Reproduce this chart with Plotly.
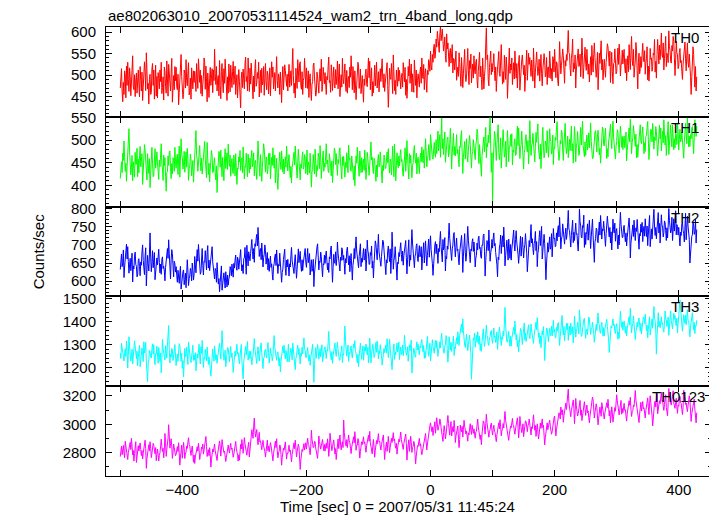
import plotly.graph_objects as go
from plotly.subplots import make_subplots

# time bins (sec), 1 s bins from -500 s
time_sec = list(range(-500, 430))

th0 = [
    470, 492, 515, 461, 438, 483, 455, 510, 498, 447, 521, 476, 530, 489, 462, 517, 497, 452, 488, 529, 545, 473, 466, 501, 450, 486, 505, 458, 479, 512,
    478, 449, 520, 495, 463, 507, 441, 472, 495, 531, 508, 464, 552, 499, 468, 481, 433, 490, 502, 455, 459, 514, 527, 476, 512, 444, 486, 523, 451, 497,
    447, 506, 493, 468, 512, 485, 530, 457, 471, 496, 442, 519, 508, 474, 458, 533, 489, 451, 525, 492, 480, 463, 504, 539, 437, 481, 499, 466, 520, 487,
    518, 473, 466, 502, 431, 460, 490, 524, 548, 497, 478, 445, 455, 512, 503, 470, 536, 488, 475, 508, 529, 454, 461, 493, 444, 517, 487, 468, 510, 483,
    509, 481, 462, 527, 495, 469, 538, 490, 483, 512, 457, 499, 451, 478, 496, 540, 530, 467, 521, 486, 438, 505, 473, 448, 492, 518, 476, 501, 515, 459,
    512, 487, 560, 504, 478, 520, 463, 491, 499, 452, 534, 476, 445, 509, 527, 483, 459, 515, 481, 537, 506, 470, 441, 496, 458, 526, 490, 461, 523, 494,
    471, 509, 532, 478, 490, 521, 455, 484, 501, 447, 468, 513, 486, 458, 424, 492, 507, 471, 514, 489, 468, 526, 542, 485, 497, 463, 540, 502, 462, 516,
    479, 528, 503, 467, 445, 498, 461, 515, 536, 474, 482, 506, 492, 530, 449, 488, 511, 459, 516, 477, 484, 520, 453, 493, 527, 482, 466, 509, 500, 456,
    498, 517, 452, 484, 531, 495, 519, 468, 481, 506, 463, 529, 543, 487, 470, 503, 494, 455, 507, 478, 436, 491, 520, 466, 489, 524, 511, 480, 474, 502,
    463, 495, 525, 472, 487, 510, 476, 521, 562, 499, 458, 481, 447, 516, 500, 469, 536, 493, 484, 527, 531, 475, 467, 508, 455, 488, 494, 539, 512, 470,
    517, 484, 469, 510, 448, 492, 503, 466, 441, 479, 485, 523, 528, 496, 482, 451, 459, 507, 496, 474, 458, 501, 515, 486, 537, 462, 473, 518, 497, 480,
    506, 478, 455, 497, 489, 520, 542, 483, 487, 460, 524, 505, 464, 491, 519, 476, 470, 513, 478, 499, 533, 468, 492, 526, 450, 485, 501, 472, 539, 493,
    480, 503, 526, 477, 462, 511, 458, 490, 497, 471, 519, 495, 545, 508, 466, 520, 488, 459, 510, 482, 443, 476, 502, 530, 521, 469, 486, 514, 457, 492,
    499, 468, 437, 491, 476, 503, 514, 480, 473, 512, 540, 494, 532, 466, 488, 517, 451, 485, 459, 498, 523, 475, 497, 530, 470, 489, 508, 461, 482, 515,
    485, 511, 538, 490, 471, 503, 462, 481, 500, 522, 529, 476, 425, 468, 516, 495, 490, 527, 479, 457, 547, 505, 464, 488, 455, 512, 493, 474, 518, 486,
    511, 480, 468, 495, 504, 472, 529, 507, 484, 518, 453, 490, 446, 475, 520, 498, 537, 481, 497, 526, 461, 503, 482, 460, 535, 499, 476, 512, 447, 488,
    503, 489, 472, 508, 519, 481, 540, 497, 492, 525, 466, 503, 515, 484, 460, 511, 501, 536, 528, 509, 556, 521, 512, 548, 530, 563, 572, 539, 549, 584,
    565, 602, 590, 571, 553, 596, 612, 580, 598, 607, 581, 556, 570, 589, 545, 530, 596, 561, 575, 547, 520, 553, 562, 528, 548, 571, 505, 539, 537, 512,
    530, 556, 488, 512, 519, 497, 552, 529, 507, 474, 541, 516, 471, 503, 538, 560, 503, 485, 496, 527, 562, 510, 478, 534, 515, 549, 482, 507, 526, 493,
    545, 512, 503, 531, 537, 488, 470, 509, 528, 553, 496, 521, 490, 466, 540, 513, 468, 497, 518, 574, 610, 536, 547, 489, 475, 518, 532, 556, 501, 527,
    508, 532, 550, 511, 487, 519, 462, 495, 525, 540, 555, 504, 497, 533, 571, 522, 479, 508, 483, 546, 519, 490, 542, 517, 446, 499, 538, 563, 504, 526,
    512, 540, 478, 505, 529, 491, 556, 520, 493, 527, 470, 512, 530, 546, 465, 498, 518, 536, 547, 509, 501, 523, 462, 497, 524, 558, 488, 514, 551, 525,
    541, 518, 497, 535, 515, 486, 563, 529, 470, 507, 532, 554, 522, 499, 509, 537, 486, 520, 548, 503, 475, 512, 527, 550, 533, 496, 502, 541, 478, 518,
    519, 494, 556, 528, 492, 515, 486, 543, 538, 507, 560, 525, 494, 531, 527, 488, 475, 516, 578, 536, 503, 522, 538, 561, 545, 510, 481, 534, 521, 548,
    534, 570, 604, 552, 549, 516, 498, 539, 552, 584, 507, 528, 515, 547, 470, 512, 533, 558, 561, 520, 523, 549, 496, 531, 586, 545, 492, 518, 540, 565,
    528, 511, 560, 537, 502, 526, 484, 518, 543, 500, 569, 532, 507, 548, 575, 541, 521, 495, 519, 553, 466, 509, 551, 527, 549, 580, 512, 536, 489, 524,
    537, 514, 495, 529, 548, 573, 566, 532, 521, 556, 483, 518, 553, 509, 480, 527, 529, 561, 540, 503, 508, 544, 563, 525, 572, 545, 498, 523, 530, 558,
    526, 547, 560, 519, 505, 538, 487, 522, 545, 508, 571, 542, 513, 554, 590, 535, 522, 560, 495, 517, 533, 576, 556, 511, 468, 529, 551, 503, 515, 543,
    518, 549, 574, 540, 531, 557, 502, 528, 539, 566, 489, 521, 486, 512, 562, 537, 540, 509, 520, 551, 547, 583, 507, 532, 493, 548, 583, 555, 526, 570,
    536, 562, 598, 547, 541, 575, 512, 538, 566, 590, 520, 551, 545, 529, 603, 566, 557, 532, 528, 569, 556, 590, 579, 541, 499, 536, 579, 552, 547, 515,
    521, 553, 562, 529, 534, 508, 490, 526, 544, 570, 577, 538, 510, 547, 575, 530, 518, 549, 527, 497, 455, 512, 539, 566, 548, 503, 472, 520, 463, 496,
]

th1 = [
    415, 437, 452, 428, 471, 455, 498, 462, 431, 449, 409, 441, 468, 492, 525, 476, 454, 423, 440, 466, 410, 452, 437, 418, 473, 446, 447, 482, 419, 458,
    428, 463, 486, 441, 453, 470, 402, 433, 455, 490, 478, 446, 437, 412, 470, 451, 426, 459, 395, 427, 462, 484, 449, 419, 421, 456, 481, 438, 458, 474,
    450, 427, 413, 456, 441, 468, 492, 447, 436, 411, 467, 443, 461, 420, 387, 429, 430, 465, 444, 472, 476, 439, 415, 448, 425, 461, 458, 431, 484, 452,
    438, 460, 469, 424, 452, 487, 418, 446, 503, 470, 461, 436, 447, 475, 429, 453, 474, 440, 482, 458, 411, 437, 443, 469, 456, 421, 433, 455, 407, 444,
    473, 498, 521, 466, 457, 431, 446, 479, 488, 453, 432, 460, 425, 444, 464, 486, 497, 458, 439, 417, 495, 462, 424, 449, 408, 436, 452, 477, 466, 428,
    430, 451, 461, 428, 412, 443, 384, 426, 447, 475, 469, 440, 478, 453, 419, 462, 438, 410, 456, 481, 437, 459, 472, 435, 491, 457, 442, 467, 420, 448,
    459, 432, 426, 467, 445, 421, 470, 448, 402, 438, 436, 463, 452, 477, 433, 455, 461, 428, 485, 450, 414, 442, 440, 471, 448, 419, 469, 437, 427, 460,
    436, 462, 477, 441, 450, 472, 421, 449, 455, 430, 413, 456, 498, 465, 443, 420, 468, 447, 409, 439, 466, 492, 481, 444, 429, 463, 458, 425, 435, 470,
    445, 471, 414, 438, 462, 444, 483, 452, 438, 467, 405, 431, 460, 418, 391, 428, 444, 473, 452, 435, 476, 449, 429, 458, 425, 446, 463, 440, 487, 457,
    432, 456, 468, 435, 417, 442, 405, 439, 449, 470, 473, 445, 487, 458, 427, 416, 452, 480, 455, 430, 412, 447, 438, 463, 474, 436, 441, 468, 461, 426,
    457, 478, 423, 452, 446, 427, 471, 443, 396, 430, 435, 468, 446, 425, 480, 455, 419, 444, 433, 471, 462, 437, 488, 459, 415, 441, 452, 476, 431, 449,
    440, 465, 492, 447, 456, 431, 428, 470, 459, 442, 421, 454, 406, 439, 451, 482, 477, 446, 470, 425, 422, 457, 448, 476, 483, 451, 437, 414, 463, 444,
    464, 437, 418, 451, 439, 472, 454, 428, 489, 457, 460, 433, 431, 465, 447, 424, 412, 443, 399, 436, 465, 449, 484, 456, 441, 420, 476, 450, 428, 461,
    429, 452, 458, 433, 478, 445, 413, 440, 473, 459, 436, 422, 444, 471, 496, 456, 462, 437, 426, 460, 455, 432, 409, 445, 418, 454, 468, 441, 447, 474,
    451, 429, 405, 444, 432, 467, 462, 437, 438, 456, 474, 450, 481, 446, 427, 458, 452, 423, 466, 487, 445, 419, 491, 461, 410, 443, 472, 448, 439, 465,
    443, 468, 479, 452, 457, 430, 420, 447, 458, 483, 431, 455, 499, 462, 436, 414, 470, 449, 467, 441, 417, 444, 450, 476, 488, 459, 449, 471, 425, 456,
    462, 447, 426, 458, 471, 452, 485, 466, 450, 479, 438, 468, 503, 474, 441, 459, 466, 490, 477, 455, 512, 486, 483, 461, 458, 492, 495, 470, 462, 501,
    470, 497, 520, 476, 489, 512, 462, 500, 549, 481, 503, 468, 488, 518, 451, 479, 478, 505, 507, 463, 472, 494, 526, 487, 436, 471, 498, 515, 467, 486,
    465, 493, 512, 470, 479, 457, 441, 486, 484, 509, 521, 473, 426, 462, 476, 497, 458, 482, 503, 466, 452, 478, 488, 510, 491, 455, 438, 469, 474, 501,
    482, 463, 457, 489, 499, 524, 515, 476, 448, 490, 471, 453, 420, 466, 478, 502, 507, 474, 503, 528, 461, 493, 485, 511, 494, 527, 550, 483, 429, 472,
    365, 447, 488, 519, 512, 476, 455, 491, 509, 534, 473, 457, 472, 505, 438, 469, 496, 523, 495, 462, 467, 498, 441, 480, 521, 493, 452, 486, 487, 512,
    486, 514, 445, 478, 473, 497, 503, 466, 468, 502, 531, 488, 527, 495, 459, 482, 490, 520, 491, 463, 436, 472, 479, 506, 512, 484, 474, 499, 447, 481,
    543, 501, 466, 489, 492, 515, 497, 470, 452, 484, 517, 495, 518, 536, 480, 463, 458, 491, 437, 476, 505, 528, 483, 461, 471, 498, 494, 472, 521, 490,
    462, 487, 525, 502, 497, 469, 478, 511, 446, 483, 481, 506, 500, 527, 541, 493, 474, 455, 468, 499, 492, 522, 516, 478, 455, 491, 516, 537, 488, 470,
    483, 509, 461, 494, 502, 477, 508, 531, 476, 492, 449, 484, 530, 505, 452, 487, 494, 519, 497, 466, 470, 501, 528, 489, 519, 542, 488, 473, 463, 496,
    466, 492, 511, 478, 489, 516, 483, 504, 538, 497, 476, 459, 460, 488, 495, 518, 521, 486, 474, 509, 522, 495, 467, 482, 449, 476, 501, 529, 525, 490,
    487, 510, 526, 493, 459, 481, 463, 498, 505, 521, 535, 502, 481, 514, 542, 507, 490, 469, 458, 486, 497, 523, 519, 491, 472, 500, 531, 512, 484, 508,
    479, 501, 509, 483, 492, 518, 454, 477, 493, 509, 527, 496, 546, 511, 470, 495, 505, 532, 515, 487, 486, 513, 461, 490, 462, 484, 504, 522, 534, 497,
    492, 515, 529, 498, 470, 494, 475, 508, 511, 528, 541, 502, 457, 483, 498, 524, 522, 496, 537, 510, 480, 507, 499, 530, 518, 491, 465, 489, 509, 533,
    503, 527, 476, 498, 520, 494, 545, 516, 489, 510, 466, 492, 520, 541, 468, 497, 511, 534, 506, 485, 533, 512, 479, 503, 483, 515, 512, 490, 538, 519,
    478, 501, 524, 496, 499, 518, 491, 472, 460, 494, 513, 537, 515, 492, 549, 521, 485, 509, 486, 512, 503, 527, 530, 498, 470, 506, 545, 523, 508, 531,
]

th2 = [
    632, 659, 675, 640, 651, 686, 610, 639, 658, 673, 702, 661, 695, 654, 622, 645, 663, 629, 648, 677, 598, 642, 634, 669, 680, 646, 641, 612, 617, 657,
    662, 640, 615, 653, 644, 681, 700, 657, 638, 618, 669, 692, 587, 633, 671, 648, 628, 675, 733, 666, 626, 651, 684, 637, 655, 679, 604, 631, 639, 664,
    645, 672, 688, 651, 623, 647, 619, 660, 667, 635, 641, 628, 601, 638, 652, 683, 690, 663, 714, 676, 634, 606, 659, 687, 676, 639, 612, 655, 648, 625,
    640, 616, 597, 630, 618, 594, 622, 641, 578, 603, 609, 626, 631, 590, 605, 622, 582, 612, 659, 628, 588, 607, 614, 635, 627, 601, 650, 629, 603, 620,
    668, 645, 623, 662, 687, 655, 701, 672, 646, 619, 625, 660, 690, 643, 617, 654, 652, 684, 657, 631, 679, 698, 636, 658, 629, 647, 664, 682, 695, 653,
    638, 611, 606, 635, 629, 597, 651, 620, 592, 607, 571, 596, 618, 642, 575, 589, 598, 623, 603, 581, 626, 609, 584, 617, 589, 606, 614, 640, 636, 615,
    647, 625, 611, 649, 636, 658, 672, 640, 630, 666, 659, 633, 655, 676, 687, 650, 628, 645, 621, 662, 664, 693, 641, 619, 699, 668, 642, 681, 673, 656,
    676, 694, 715, 682, 661, 690, 652, 703, 696, 718, 729, 697, 748, 711, 668, 686, 690, 659, 705, 677, 639, 665, 674, 700, 684, 647, 658, 679, 631, 662,
    627, 652, 669, 638, 648, 619, 603, 641, 648, 667, 675, 643, 686, 654, 621, 646, 642, 677, 655, 628, 597, 624, 633, 660, 672, 688, 635, 616, 658, 639,
    660, 637, 614, 648, 639, 670, 693, 656, 642, 625, 621, 655, 673, 640, 608, 633, 665, 689, 651, 668, 682, 645, 627, 659, 629, 650, 665, 683, 690, 652,
    638, 665, 690, 651, 659, 676, 617, 643, 659, 627, 634, 660, 585, 622, 646, 675, 671, 694, 703, 662, 631, 655, 652, 680, 668, 636, 612, 648, 645, 672,
    649, 671, 683, 655, 631, 650, 624, 667, 661, 688, 697, 642, 597, 638, 674, 652, 649, 681, 643, 663, 708, 677, 662, 640, 628, 666, 657, 692, 686, 658,
    671, 648, 619, 662, 650, 685, 694, 667, 645, 670, 626, 657, 676, 639, 603, 644, 658, 690, 662, 698, 722, 683, 669, 646, 637, 668, 681, 703, 640, 663,
    652, 677, 690, 658, 663, 689, 628, 660, 713, 684, 675, 646, 647, 679, 671, 697, 636, 655, 609, 648, 684, 711, 702, 667, 659, 693, 729, 681, 668, 654,
    641, 668, 686, 713, 709, 677, 662, 640, 618, 659, 650, 683, 697, 670, 654, 689, 621, 663, 735, 692, 633, 657, 666, 695, 673, 638, 603, 652, 648, 679,
    668, 690, 706, 674, 655, 683, 644, 671, 681, 700, 712, 665, 620, 659, 692, 714, 641, 672, 658, 693, 742, 705, 680, 651, 637, 669, 675, 698, 703, 662,
    654, 681, 698, 667, 672, 695, 631, 662, 679, 706, 650, 688, 711, 674, 642, 670, 689, 716, 666, 694, 725, 687, 673, 648, 616, 663, 683, 701, 709, 676,
    702, 675, 649, 690, 681, 712, 737, 696, 671, 653, 715, 686, 694, 720, 628, 668, 662, 697, 688, 725, 760, 718, 700, 672, 657, 689, 699, 727, 734, 693,
    667, 697, 719, 684, 688, 662, 645, 680, 693, 714, 726, 690, 624, 669, 707, 731, 680, 655, 672, 701, 751, 713, 698, 676, 651, 688, 684, 709, 717, 682,
    708, 682, 639, 664, 671, 705, 686, 719, 724, 690, 693, 667, 663, 700, 699, 726, 730, 681, 614, 657, 677, 712, 702, 684, 741, 706, 655, 678, 689, 715,
    691, 718, 733, 697, 704, 679, 668, 645, 612, 666, 659, 694, 702, 727, 676, 708, 725, 694, 749, 710, 642, 670, 684, 713, 689, 658, 716, 690, 663, 701,
    658, 688, 705, 727, 741, 700, 683, 715, 739, 708, 696, 674, 649, 686, 697, 724, 669, 701, 721, 693, 664, 689, 701, 731, 710, 677, 626, 668, 685, 712,
    695, 724, 756, 705, 717, 690, 673, 703, 712, 737, 684, 709, 640, 676, 688, 720, 739, 698, 728, 751, 661, 695, 697, 729, 703, 672, 604, 650, 668, 706,
    680, 706, 722, 688, 694, 731, 667, 702, 745, 717, 719, 695, 698, 733, 711, 742, 753, 722, 776, 738, 689, 716, 724, 758, 734, 708, 702, 729, 746, 715,
    728, 761, 795, 744, 739, 717, 694, 726, 741, 768, 706, 735, 712, 747, 760, 729, 731, 702, 683, 725, 799, 764, 752, 721, 719, 753, 748, 782, 693, 734,
    701, 729, 737, 758, 713, 741, 768, 726, 690, 722, 748, 771, 725, 694, 652, 707, 718, 746, 743, 711, 706, 739, 763, 727, 781, 752, 716, 744, 739, 765,
    739, 717, 696, 731, 752, 779, 758, 725, 722, 748, 705, 736, 686, 722, 771, 742, 733, 760, 710, 738, 745, 716, 689, 727, 700, 751, 790, 757, 744, 720,
    721, 746, 754, 728, 709, 733, 697, 720, 738, 761, 774, 741, 664, 705, 729, 752, 755, 723, 768, 735, 712, 747, 737, 770, 749, 716, 688, 731, 725, 757,
    735, 762, 709, 738, 751, 724, 772, 745, 723, 752, 698, 730, 756, 781, 695, 727, 744, 716, 742, 771, 798, 752, 726, 748, 717, 743, 761, 789, 733, 759,
    705, 741, 783, 755, 749, 722, 734, 766, 761, 739, 712, 747, 719, 752, 800, 768, 757, 733, 741, 776, 712, 745, 772, 738, 770, 794, 728, 756, 751, 727,
    748, 721, 697, 735, 726, 759, 762, 740, 731, 708, 765, 787, 714, 745, 779, 752, 740, 716, 650, 684, 690, 723, 728, 761, 754, 729, 736, 770, 705, 742,
]

th3 = [
    1262, 1239, 1305, 1283, 1271, 1236, 1228, 1266, 1281, 1247, 1314, 1276, 1197, 1252, 1334, 1290, 1250, 1227, 1246, 1279, 1215, 1260, 1288, 1316, 1293, 1255, 1238, 1271, 1207, 1244,
    1271, 1296, 1203, 1240, 1249, 1285, 1257, 1226, 1312, 1263, 1276, 1309, 1224, 1189, 1138, 1216, 1233, 1274, 1268, 1245, 1241, 1283, 1303, 1258, 1299, 1237, 1212, 1260, 1258, 1292,
    1250, 1218, 1287, 1254, 1226, 1263, 1176, 1233, 1322, 1281, 1263, 1236, 1232, 1295, 1264, 1240, 1297, 1326, 1383, 1278, 1219, 1259, 1245, 1283, 1277, 1230, 1245, 1269, 1300, 1257,
    1208, 1243, 1259, 1227, 1281, 1304, 1296, 1251, 1227, 1262, 1196, 1230, 1158, 1219, 1283, 1246, 1252, 1289, 1240, 1213, 1311, 1275, 1264, 1232, 1221, 1258, 1266, 1297, 1230, 1255,
    1233, 1264, 1185, 1222, 1259, 1240, 1274, 1301, 1247, 1215, 1290, 1261, 1318, 1272, 1200, 1242, 1236, 1279, 1256, 1228, 1289, 1253, 1213, 1246, 1229, 1196, 1162, 1219, 1248, 1281,
    1252, 1227, 1294, 1263, 1232, 1255, 1218, 1246, 1269, 1297, 1305, 1270, 1236, 1284, 1360, 1298, 1267, 1231, 1242, 1275, 1203, 1238, 1259, 1287, 1281, 1249, 1225, 1262, 1291, 1244,
    1263, 1225, 1178, 1214, 1236, 1272, 1249, 1283, 1301, 1258, 1265, 1237, 1216, 1251, 1274, 1300, 1229, 1196, 1150, 1223, 1257, 1286, 1292, 1254, 1288, 1313, 1232, 1260, 1271, 1238,
    1270, 1246, 1211, 1238, 1253, 1290, 1326, 1281, 1255, 1233, 1217, 1262, 1290, 1257, 1228, 1266, 1279, 1307, 1264, 1232, 1195, 1241, 1244, 1275, 1279, 1253, 1242, 1282, 1308, 1266,
    1219, 1250, 1285, 1261, 1254, 1229, 1247, 1296, 1339, 1288, 1272, 1248, 1231, 1259, 1268, 1237, 1206, 1242, 1180, 1226, 1254, 1280, 1293, 1264, 1297, 1258, 1237, 1274, 1263, 1225,
    1276, 1301, 1224, 1247, 1258, 1285, 1262, 1233, 1306, 1270, 1235, 1212, 1190, 1239, 1251, 1278, 1297, 1256, 1283, 1244, 1215, 1263, 1249, 1288, 1260, 1296, 1329, 1281, 1274, 1243,
    1243, 1268, 1287, 1251, 1227, 1255, 1209, 1241, 1266, 1292, 1301, 1230, 1135, 1213, 1258, 1286, 1240, 1265, 1300, 1274, 1236, 1259, 1282, 1246, 1271, 1299, 1224, 1257, 1255, 1285,
    1290, 1262, 1239, 1275, 1271, 1308, 1357, 1291, 1262, 1240, 1233, 1269, 1218, 1252, 1279, 1297, 1307, 1268, 1248, 1283, 1310, 1277, 1256, 1231, 1233, 1260, 1269, 1294, 1221, 1258,
    1253, 1310, 1381, 1312, 1286, 1249, 1271, 1298, 1226, 1265, 1259, 1281, 1294, 1260, 1241, 1277, 1302, 1285, 1317, 1270, 1262, 1238, 1220, 1257, 1203, 1248, 1284, 1306, 1265, 1236,
    1268, 1294, 1231, 1259, 1290, 1271, 1302, 1278, 1255, 1287, 1219, 1250, 1328, 1283, 1220, 1258, 1273, 1301, 1276, 1243, 1249, 1280, 1309, 1266, 1315, 1286, 1237, 1272, 1260, 1299,
    1282, 1251, 1210, 1239, 1247, 1283, 1264, 1292, 1298, 1262, 1325, 1288, 1243, 1270, 1323, 1284, 1258, 1231, 1190, 1245, 1271, 1303, 1235, 1266, 1256, 1291, 1306, 1268, 1279, 1310,
    1234, 1267, 1289, 1256, 1263, 1298, 1251, 1279, 1340, 1302, 1280, 1253, 1262, 1290, 1227, 1265, 1299, 1273, 1296, 1320, 1175, 1240, 1258, 1284, 1273, 1246, 1245, 1289, 1312, 1276,
    1301, 1273, 1255, 1292, 1286, 1311, 1322, 1284, 1268, 1296, 1239, 1270, 1243, 1281, 1310, 1335, 1274, 1249, 1278, 1305, 1229, 1262, 1296, 1321, 1290, 1266, 1262, 1298, 1318, 1283,
    1316, 1287, 1248, 1279, 1281, 1312, 1285, 1327, 1349, 1305, 1297, 1268, 1262, 1294, 1298, 1339, 1330, 1277, 1223, 1262, 1334, 1301, 1276, 1310, 1270, 1299, 1305, 1336, 1252, 1289,
    1282, 1311, 1330, 1302, 1355, 1327, 1296, 1340, 1365, 1381, 1390, 1352, 1412, 1361, 1318, 1297, 1287, 1324, 1345, 1308, 1273, 1299, 1320, 1341, 1301, 1262, 1148, 1239, 1296, 1328,
    1322, 1350, 1288, 1317, 1340, 1309, 1356, 1330, 1301, 1336, 1274, 1303, 1270, 1312, 1342, 1368, 1318, 1291, 1313, 1347, 1385, 1339, 1329, 1302, 1296, 1331, 1334, 1358, 1361, 1320,
    1305, 1341, 1372, 1330, 1337, 1309, 1318, 1355, 1279, 1316, 1352, 1376, 1350, 1323, 1296, 1334, 1322, 1358, 1338, 1390, 1462, 1382, 1341, 1313, 1310, 1347, 1357, 1325, 1292, 1336,
    1293, 1327, 1346, 1361, 1375, 1344, 1402, 1356, 1320, 1343, 1289, 1318, 1268, 1305, 1335, 1370, 1364, 1332, 1300, 1339, 1371, 1394, 1319, 1350, 1313, 1337, 1348, 1375, 1386, 1340,
    1326, 1353, 1389, 1360, 1342, 1318, 1305, 1339, 1355, 1381, 1398, 1364, 1417, 1373, 1331, 1350, 1304, 1337, 1286, 1329, 1360, 1343, 1378, 1321, 1230, 1295, 1342, 1372, 1369, 1336,
    1312, 1348, 1370, 1339, 1345, 1381, 1337, 1369, 1405, 1352, 1366, 1330, 1329, 1375, 1358, 1389, 1396, 1347, 1296, 1334, 1382, 1410, 1427, 1368, 1341, 1379, 1316, 1351, 1359, 1392,
    1364, 1392, 1318, 1354, 1380, 1341, 1393, 1366, 1346, 1377, 1307, 1349, 1425, 1384, 1332, 1359, 1371, 1398, 1374, 1346, 1451, 1397, 1362, 1335, 1340, 1376, 1385, 1410, 1414, 1367,
    1327, 1359, 1368, 1343, 1394, 1420, 1411, 1377, 1344, 1366, 1372, 1398, 1380, 1347, 1310, 1345, 1353, 1388, 1361, 1400, 1438, 1392, 1385, 1356, 1349, 1381, 1397, 1365, 1336, 1374,
    1338, 1367, 1384, 1402, 1410, 1379, 1356, 1320, 1265, 1318, 1347, 1381, 1372, 1396, 1412, 1383, 1389, 1355, 1348, 1377, 1391, 1360, 1323, 1354, 1327, 1393, 1445, 1406, 1375, 1399,
    1362, 1389, 1403, 1374, 1349, 1380, 1337, 1368, 1382, 1409, 1421, 1386, 1458, 1400, 1351, 1378, 1390, 1425, 1394, 1361, 1322, 1357, 1367, 1398, 1376, 1403, 1416, 1384, 1358, 1392,
    1346, 1372, 1388, 1420, 1413, 1391, 1432, 1397, 1360, 1384, 1329, 1366, 1395, 1421, 1341, 1375, 1386, 1412, 1371, 1428, 1466, 1417, 1402, 1363, 1258, 1334, 1410, 1439, 1377, 1401,
    1373, 1402, 1421, 1388, 1395, 1365, 1354, 1392, 1446, 1411, 1407, 1378, 1392, 1420, 1340, 1381, 1418, 1447, 1405, 1374, 1368, 1403, 1437, 1410, 1427, 1395, 1381, 1415, 1350, 1389,
    1412, 1456, 1495, 1437, 1424, 1389, 1358, 1401, 1430, 1413, 1392, 1429, 1386, 1418, 1452, 1405, 1403, 1371, 1333, 1376, 1401, 1428, 1439, 1396, 1364, 1397, 1348, 1383, 1380, 1406,
]

th0123 = [
    2772, 2819, 2845, 2786, 2807, 2851, 2798, 2764, 2880, 2836, 2829, 2790, 2752, 2803, 2826, 2865, 2873, 2822, 2901, 2847, 2785, 2816, 2741, 2795, 2838, 2877, 2731, 2784, 2810, 2849,
    2812, 2843, 2869, 2821, 2780, 2815, 2756, 2797, 2834, 2862, 2888, 2829, 2690, 2758, 2803, 2838, 2857, 2814, 2877, 2832, 2765, 2796, 2819, 2866, 2851, 2805, 2792, 2836, 2744, 2789,
    2826, 2787, 2742, 2780, 2801, 2849, 2895, 2842, 2808, 2831, 2764, 2817, 2935, 2870, 2774, 2823, 2852, 2903, 2997, 2911, 2832, 2864, 2898, 2843, 2760, 2806, 2861, 2835, 2815, 2779,
    2788, 2824, 2843, 2808, 2870, 2796, 2712, 2768, 2815, 2853, 2761, 2799, 2872, 2827, 2759, 2790, 2806, 2847, 2830, 2874, 2905, 2859, 2848, 2813, 2781, 2822, 2847, 2795, 2733, 2784,
    2724, 2770, 2801, 2829, 2842, 2811, 2866, 2819, 2752, 2786, 2797, 2840, 2828, 2861, 2790, 2818, 2857, 2886, 2914, 2845, 2773, 2804, 2821, 2779, 2835, 2788, 2699, 2752, 2776, 2825,
    2805, 2834, 2861, 2813, 2779, 2758, 2745, 2793, 2820, 2855, 2883, 2841, 2776, 2825, 2892, 2856, 2837, 2801, 2811, 2778, 2738, 2767, 2795, 2830, 2854, 2817, 2797, 2839, 2866, 2823,
    2833, 2801, 2768, 2790, 2812, 2848, 2879, 2832, 2814, 2782, 2741, 2786, 2747, 2808, 2859, 2826, 2893, 2845, 2796, 2851, 2906, 2862, 2825, 2799, 2782, 2820, 2840, 2873, 2770, 2816,
    2875, 2918, 2962, 2930, 2901, 2986, 3044, 2957, 2910, 2938, 2963, 2897, 2856, 2905, 2943, 2876, 2884, 2852, 2821, 2860, 2887, 2848, 2835, 2807, 2769, 2818, 2852, 2889, 2814, 2846,
    2806, 2840, 2871, 2849, 2823, 2781, 2743, 2794, 2829, 2858, 2882, 2836, 2898, 2817, 2764, 2799, 2810, 2855, 2845, 2789, 2712, 2768, 2793, 2832, 2818, 2851, 2876, 2813, 2755, 2797,
    2791, 2827, 2853, 2808, 2819, 2776, 2735, 2789, 2817, 2842, 2869, 2828, 2888, 2834, 2770, 2806, 2828, 2861, 2841, 2770, 2682, 2749, 2787, 2823, 2809, 2845, 2864, 2819, 2836, 2870,
    2825, 2868, 2902, 2859, 2850, 2817, 2786, 2842, 2958, 2893, 2871, 2836, 2839, 2880, 2877, 2833, 2805, 2782, 2760, 2824, 2918, 2879, 2862, 2825, 2848, 2887, 2893, 2851, 2814, 2858,
    2811, 2847, 2866, 2830, 2898, 2852, 2774, 2826, 2937, 2889, 2856, 2815, 2842, 2874, 2890, 2843, 2791, 2829, 2752, 2803, 2863, 2897, 2829, 2870, 2925, 2861, 2820, 2855, 2878, 2836,
    3030, 2941, 2884, 2859, 2846, 2892, 2836, 2870, 2925, 2883, 2870, 2831, 2794, 2840, 2871, 2908, 2912, 2869, 2948, 2896, 2817, 2852, 2853, 2899, 2889, 2827, 2762, 2808, 2835, 2877,
    2857, 2889, 2912, 2864, 2876, 2838, 2803, 2850, 2879, 2902, 2923, 2881, 2950, 2872, 2829, 2806, 2792, 2847, 2893, 2836, 2768, 2817, 2844, 2886, 2861, 2899, 2934, 2876, 2881, 2846,
    2819, 2857, 2888, 2906, 2925, 2840, 2752, 2812, 2846, 2874, 2809, 2862, 2915, 2858, 2800, 2838, 2863, 2901, 2872, 2916, 2941, 2884, 2897, 2851, 2831, 2866, 2790, 2834, 2857, 2895,
    2877, 2914, 2945, 2893, 2868, 2839, 2823, 2865, 2891, 2918, 2932, 2866, 2748, 2817, 2858, 2891, 2809, 2856, 2916, 2872, 2802, 2837, 2845, 2880, 2866, 2790, 2722, 2776, 2811, 2850,
    2844, 2877, 2901, 2848, 2863, 2815, 2786, 2809, 2832, 2869, 2887, 2913, 2935, 2874, 2820, 2861, 2902, 2938, 2963, 2991, 3010, 2964, 2949, 2982, 2921, 2957, 2985, 3018, 2937, 2974,
    3046, 3002, 2958, 2984, 2997, 3038, 3021, 2976, 2934, 2905, 2879, 2942, 2990, 2951, 2897, 2929, 2966, 3010, 3062, 3005, 2955, 2923, 2988, 3019, 2918, 2954, 2983, 2947, 3027, 2971,
    2872, 2918, 2941, 2969, 2988, 2902, 2836, 2893, 2995, 2958, 2947, 2985, 2910, 2964, 3028, 2987, 2969, 2932, 2953, 2911, 2881, 2940, 2926, 2973, 3004, 2958, 2929, 2993, 2972, 2936,
    2968, 2937, 2902, 2946, 2951, 2994, 3037, 2981, 2946, 2918, 2893, 2925, 2856, 2931, 2985, 3024, 3016, 2962, 2931, 3003, 3071, 3012, 2975, 2940, 2909, 2951, 2962, 2997, 3008, 2955,
    2924, 2965, 2993, 2951, 2942, 2906, 2878, 2924, 2957, 2990, 3011, 2968, 3032, 2982, 2919, 2954, 2968, 3005, 2974, 3036, 3090, 3027, 2996, 2958, 2941, 2912, 2887, 2929, 2950, 2987,
    2976, 3012, 3041, 2995, 2989, 2953, 2930, 2967, 2998, 3030, 3046, 2982, 2904, 2959, 3055, 3008, 2973, 2941, 2962, 3003, 2913, 2956, 2981, 3024, 3020, 2979, 2948, 2990, 3003, 3037,
    2991, 2958, 2925, 2982, 2969, 3021, 3067, 3003, 2958, 2992, 2915, 2961, 3003, 2947, 2896, 2931, 2957, 3009, 2971, 3014, 3038, 2976, 2993, 2924, 2855, 2906, 2944, 2985, 3010, 2962,
    2982, 3011, 3029, 2987, 2961, 2930, 2947, 2993, 3006, 3044, 3058, 2999, 2918, 2962, 2985, 3026, 3034, 3081, 3072, 3037, 3121, 3088, 3065, 3102, 3014, 3059, 3098, 3136, 3149, 3104,
    3160, 3205, 3248, 3153, 3108, 3079, 3053, 3096, 3117, 3144, 3171, 3112, 3004, 3087, 3182, 3131, 3096, 3058, 3075, 3119, 3140, 3168, 3063, 3101, 3026, 3072, 3108, 3139, 3159, 3113,
    3062, 3103, 3135, 3081, 3094, 3046, 3010, 3058, 3093, 3127, 3146, 3192, 3171, 3098, 3044, 3081, 3102, 3144, 3118, 3063, 2996, 3042, 3079, 3121, 3087, 3056, 3152, 3116, 3114, 3069,
    3037, 3079, 3104, 3131, 3152, 3117, 3176, 3124, 3058, 3097, 3011, 3064, 3123, 3083, 3015, 3052, 3086, 3118, 3092, 3149, 3208, 3165, 3129, 3091, 3066, 3104, 3130, 3168, 3071, 3112,
    3081, 3120, 3147, 3098, 3103, 3061, 3022, 3074, 3110, 3141, 3165, 3133, 3190, 3106, 3055, 3088, 3097, 3135, 3126, 3179, 3238, 3170, 3144, 3109, 3078, 3046, 3012, 3072, 3118, 3155,
    3093, 3129, 3160, 3108, 3116, 3079, 3045, 3097, 3138, 3172, 3186, 3123, 3069, 3142, 3201, 3154, 3122, 3059, 2988, 3064, 3117, 3150, 3163, 3121, 3182, 3214, 3074, 3112, 3131, 3166,
    3145, 3187, 3226, 3162, 3170, 3126, 3098, 3139, 3171, 3208, 3119, 3086, 3060, 3151, 3252, 3197, 3188, 3150, 3135, 3172, 3204, 3236, 3149, 3118, 3112, 3156, 3183, 3124, 3077, 3133,
    3127, 3168, 3195, 3152, 3146, 3103, 3068, 3121, 3240, 3197, 3183, 3139, 3150, 3114, 3089, 3130, 3158, 3201, 3172, 3118, 3020, 3074, 3101, 3149, 3145, 3177, 3105, 3061, 3010, 3082,
]

band_names = ["TH0", "TH1", "TH2", "TH3", "TH0123"]
band_values = [th0, th1, th2, th3, th0123]
band_colors = ["#ff0000", "#00ff00", "#0000ff", "#00ffff", "#ff00ff"]
y_ranges = [[403, 612], [353, 551.5], [558, 805.5], [1118, 1510], [2636, 3268]]
y_major = [50, 50, 50, 100, 200]
y_minor = [10, 10, 10, 20, 100]
x_range = [-523, 452]

title_text = "ae802063010_20070531114524_wam2_trn_4band_long.qdp"
x_title = "Time [sec] 0 = 2007/05/31 11:45:24"
y_title = "Counts/sec"

FONT = "Liberation Sans, Arial, Helvetica, sans-serif"

fig = make_subplots(rows=5, cols=1, shared_xaxes=True, vertical_spacing=0)

for i, (name, vals, col) in enumerate(zip(band_names, band_values, band_colors)):
    fig.add_trace(
        go.Scatter(x=time_sec[:len(vals)], y=vals, mode="lines", name=name,
                   line=dict(color=col, width=1), showlegend=False),
        row=i + 1, col=1)
    fig.update_yaxes(
        range=y_ranges[i], dtick=y_major[i], tick0=0,
        ticks="inside", ticklen=6, tickcolor="black", tickwidth=1,
        minor=dict(dtick=y_minor[i], tick0=0, ticks="inside", ticklen=3,
                   tickcolor="black", showgrid=False),
        showline=True, linecolor="black", linewidth=1, mirror="ticks",
        showgrid=False, zeroline=False,
        tickfont=dict(family=FONT, size=15, color="black"),
        ticklabelstandoff=6,
        row=i + 1, col=1)
    fig.update_xaxes(
        range=x_range, dtick=200, tick0=0,
        ticks="inside", ticklen=6, tickcolor="black", tickwidth=1,
        minor=dict(dtick=100, tick0=0, ticks="inside", ticklen=6,
                   tickcolor="black", showgrid=False),
        showline=True, linecolor="black", linewidth=1, mirror="ticks",
        showgrid=False, zeroline=False,
        showticklabels=(i == 4),
        tickfont=dict(family=FONT, size=15, color="black"),
        ticklabelstandoff=0,
        row=i + 1, col=1)

# right edge of each panel label (paper x)
label_x = [0.9835, 0.9835, 0.9835, 0.9835, 0.993]
annotations = []
for i, name in enumerate(band_names):
    yref = "y domain" if i == 0 else f"y{i + 1} domain"
    annotations.append(dict(
        text=name, xref="paper", x=label_x[i], xanchor="right",
        yref=yref, y=1, yanchor="top", yshift=0,
        showarrow=False, font=dict(family=FONT, size=15, color="black")))

annotations.append(dict(
    text=title_text, xref="paper", x=0.0, xanchor="left",
    yref="paper", y=1.025, yanchor="middle",
    showarrow=False, font=dict(family=FONT, size=15, color="black")))
annotations.append(dict(
    text=x_title, xref="paper", x=0.481, xanchor="center",
    yref="paper", y=-0.068, yanchor="middle",
    showarrow=False, font=dict(family=FONT, size=15, color="black")))
annotations.append(dict(
    text=y_title, xref="paper", x=-0.111, xanchor="center",
    yref="paper", y=0.5, yanchor="middle", textangle=-90,
    showarrow=False, font=dict(family=FONT, size=15, color="black")))

# the page body adds an 8 px margin, so the figure is 8 px smaller than the window
fig.update_layout(
    width=709, height=508,
    margin=dict(l=98, r=6, t=19, b=40),
    paper_bgcolor="white", plot_bgcolor="white",
    annotations=annotations,
    font=dict(family=FONT, size=15, color="black"),
)

fig.write_html("out.html")
